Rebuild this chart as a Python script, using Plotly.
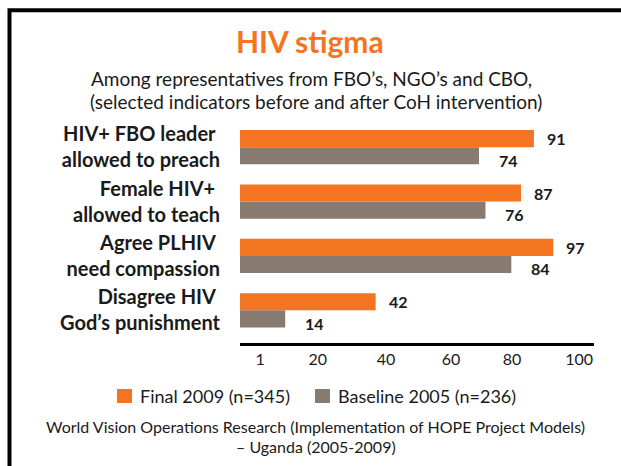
import plotly.graph_objects as go

categories = ["HIV+ FBO leader\u00a0<br>allowed to preach",
              "Female HIV+\u00a0<br>allowed to teach",
              "Agree PLHIV\u00a0<br>need compassion",
              "Disagree HIV\u00a0<br>God’s punishment"]
final_2009 = [91, 87, 97, 42]
baseline_2005 = [74, 76, 84, 14]
tick_labels = ["1", "20", "40", "60", "80", "100"]
series_names = ["Final 2009 (n=345)", "Baseline 2005 (n=236)"]

ORANGE = "#F47521"
GRAY = "#877A70"
DARK = "#1A1A1A"
FONT = "Lato"

W, H = 621, 466
ML, MR, MT, MB = 240, 27, 120, 123
PW, PH = W - ML - MR, H - MT - MB

def px(x):
    return (x - ML) / PW

def py(y):
    return (H - MB - y) / PH

fig = go.Figure()
fig.add_trace(go.Bar(y=categories, x=baseline_2005, orientation="h", name=series_names[1],
                     marker=dict(color=GRAY, line=dict(width=0))))
fig.add_trace(go.Bar(y=categories, x=final_2009, orientation="h", name=series_names[0],
                     marker=dict(color=ORANGE, line=dict(width=0))))

ann = []
for c, v in zip(categories, final_2009):
    ann.append(dict(x=v, y=c, xref="x", yref="y", text=str(v), showarrow=False, xanchor="left",
                    xshift=11, yshift=8.5, font=dict(family=FONT, size=16, color=DARK, weight="bold")))
for c, v in zip(categories, baseline_2005):
    ann.append(dict(x=v, y=c, xref="x", yref="y", text=str(v), showarrow=False, xanchor="left",
                    xshift=18, yshift=-13, font=dict(family=FONT, size=16, color=DARK, weight="bold")))

def txt(text, x, y, size, color=DARK, weight="normal", anchor="center"):
    ann.append(dict(x=px(x), y=py(y), xref="paper", yref="paper", text=text, showarrow=False,
                    xanchor=anchor, yanchor="middle",
                    font=dict(family=FONT, size=size, color=color, weight=weight)))

txt("HIV stigma", 310, 41, 30, ORANGE, "bold")
txt("Among representatives from FBO’s, NGO’s and CBO,", 311, 79, 19)
txt("(selected indicators before and after CoH intervention)", 316, 101, 19)
txt("World Vision Operations Research (Implementation of HOPE Project Models)", 315, 426, 16)
txt("– Uganda (2005-2009)", 316, 446, 16)

# manual legend
shapes = []
for name, col, sx in [(series_names[0], ORANGE, 117), (series_names[1], GRAY, 315)]:
    shapes.append(dict(type="rect", xref="paper", yref="paper", x0=px(sx), x1=px(sx + 15),
                       y0=py(403), y1=py(389), fillcolor=col, line=dict(width=0)))
    txt(name, sx + 21, 396, 18, anchor="left")

shapes.append(dict(type="rect", xref="paper", yref="paper", x0=px(9.5), x1=px(660),
                   y0=py(520), y1=py(10.3), line=dict(color="black", width=4),
                   fillcolor="rgba(0,0,0,0)", layer="above"))

fig.update_layout(
    width=W, height=H, autosize=False,
    margin=dict(l=ML, r=MR, t=MT, b=MB, pad=0),
    paper_bgcolor="white", plot_bgcolor="white",
    barmode="group", bargap=0.37, bargroupgap=0,
    font=dict(family=FONT, color=DARK),
    showlegend=False,
    annotations=ann,
    shapes=shapes,
    xaxis=dict(range=[0, 109.6], showgrid=False, zeroline=False, showline=True,
               linecolor="black", linewidth=3,
               tickmode="array", tickvals=[6.2, 24.1, 45.2, 65.3, 84.2, 105.0], ticktext=tick_labels,
               ticks="", ticklabelstandoff=0,
               tickfont=dict(family=FONT, size=16, color=DARK), fixedrange=True),
    yaxis=dict(categoryorder="array", categoryarray=categories[::-1], range=[-0.6, 3.5],
               showgrid=False, zeroline=False, showline=False, ticks="", ticklabelstandoff=19,
               tickfont=dict(family=FONT, size=20, color=DARK, weight="bold"), fixedrange=True),
)

fig.write_html("out.html", config={"displayModeBar": False},
               post_script="document.body.style.margin='0';document.body.style.overflow='hidden';")
